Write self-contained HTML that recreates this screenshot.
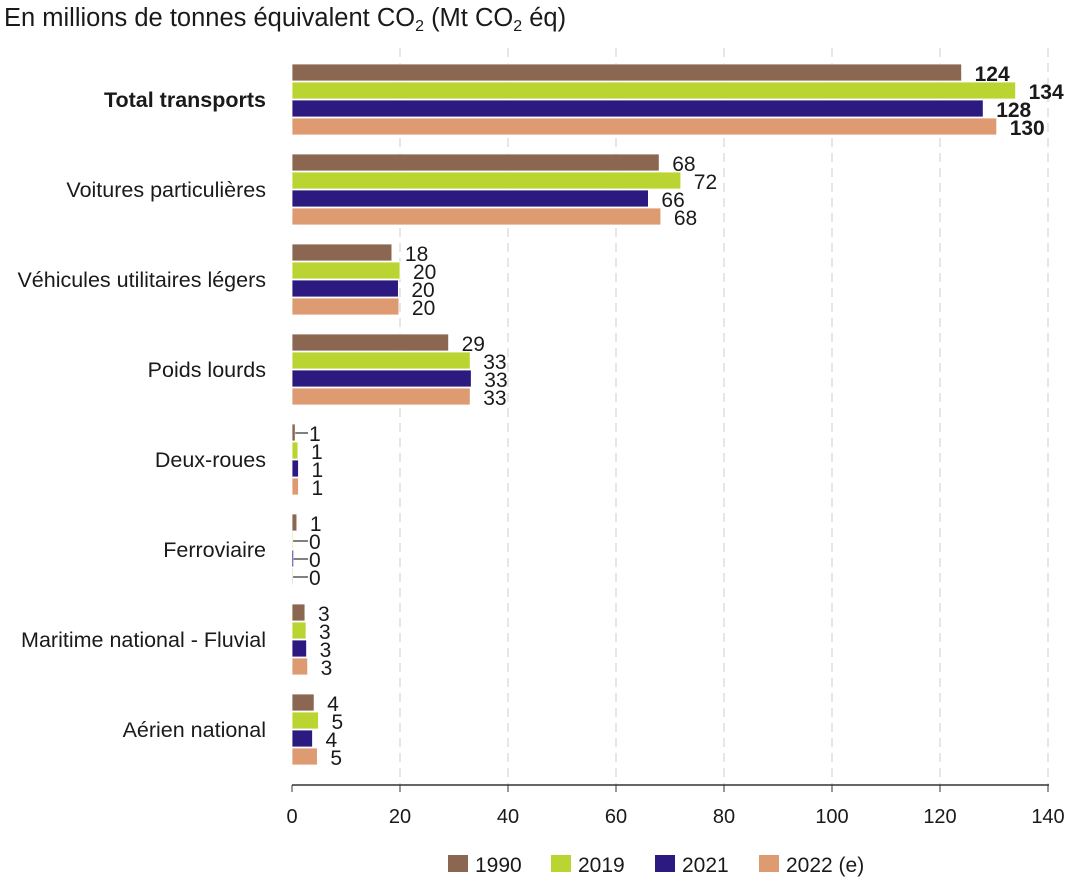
<!DOCTYPE html>
<html><head><meta charset="utf-8"><style>
body{margin:0;background:#fff;font-family:"Liberation Sans",sans-serif;}
svg text{font-family:"Liberation Sans",sans-serif;fill:#1a1a1a;}
</style></head><body>
<svg id="c" width="1088" height="886" xmlns="http://www.w3.org/2000/svg">
<text x="4" y="26" font-size="25.5">En millions de tonnes équivalent CO<tspan font-size="16" dy="5">2</tspan><tspan dy="-5"> (Mt CO</tspan><tspan font-size="16" dy="5">2</tspan><tspan dy="-5"> éq)</tspan></text>
</svg>
<script>
const categories=["Total transports","Voitures particulières","Véhicules utilitaires légers","Poids lourds","Deux-roues","Ferroviaire","Maritime national - Fluvial","Aérien national"];
const seriesNames=["1990","2019","2021","2022 (e)"];
const v1990=[124,68,18.5,29,0.6,0.9,2.4,4.1];
const v2019=[134,72,20,33,1.1,0.2,2.6,4.9];
const v2021=[128,66,19.7,33.2,1.2,0.3,2.7,3.8];
const v2022=[130.5,68.3,19.8,33,1.2,0.2,2.9,4.7];
const labels1990=["124","68","18","29","1","1","3","4"];
const labels2019=["134","72","20","33","1","0","3","5"];
const labels2021=["128","66","20","33","1","0","3","4"];
const labels2022=["130","68","20","33","1","0","3","5"];
const xTicks=[0,20,40,60,80,100,120,140];
const colors=["#8b6650","#bad531","#2c1a80","#de9a70"];
const series=[v1990,v2019,v2021,v2022];
const labs=[labels1990,labels2019,labels2021,labels2022];
const svg=document.getElementById('c');const NS="http://www.w3.org/2000/svg";
const x=v=>292+v*(1048-292)/140;
const groupTop=i=>64+i*90;
function el(t,a){const e=document.createElementNS(NS,t);for(const k in a)e.setAttribute(k,a[k]);svg.appendChild(e);return e;}
xTicks.forEach(t=>{
 if(t>0){const g=el('line',{x1:x(t),x2:x(t),y1:48,y2:785,stroke:'#ccc','stroke-dasharray':'9,6'});
 
 }
 const tk=el('line',{x1:x(t),x2:x(t),y1:785,y2:792,stroke:'#333'});
 
 
 const tx=el('text',{x:x(t),y:823,'font-size':20,'text-anchor':'middle'});tx.textContent=t;
 
 
});
const ax=el('line',{x1:292,x2:1049,y1:785,y2:785,stroke:'#333','stroke-width':1.5});


categories.forEach((c,i)=>{
 const t=el('text',{x:266,y:groupTop(i)+43,'font-size':21.5,'text-anchor':'end','font-weight':i==0?'bold':'normal'});t.textContent=c;
 
 
 series.forEach((s,j)=>{
  const y=groupTop(i)+j*18;const w=x(s[i])-292;
  const r=el('rect',{x:292,y:y,width:Math.max(w,0.8),height:17,fill:colors[j],stroke:'#fff','stroke-width':0.8});
  
  
  let lx=x(s[i])+13;
  if((i===5&&j>0)||(i===4&&j===0)){
   const l=el('line',{x1:292+w,x2:308,y1:y+9,y2:y+9,stroke:'#555','stroke-width':1.5});
   
   
   lx=Math.max(lx,309);
  }
  const tt=el('text',{x:lx,y:y+17,'font-size':21,'font-weight':i==0?'bold':'normal'});tt.textContent=labs[j][i];
  
  
 });
});
const leg=[[448,"1990"],[551,"2019"],[655,"2021"],[759,"2022 (e)"]];
leg.forEach((L,j)=>{
 const r=el('rect',{x:L[0],y:855,width:20,height:17,fill:colors[j]});
 
 
 const t=el('text',{x:L[0]+27,y:872,'font-size':21});t.textContent=seriesNames[j];
 
 
});
</script>
</body></html>
